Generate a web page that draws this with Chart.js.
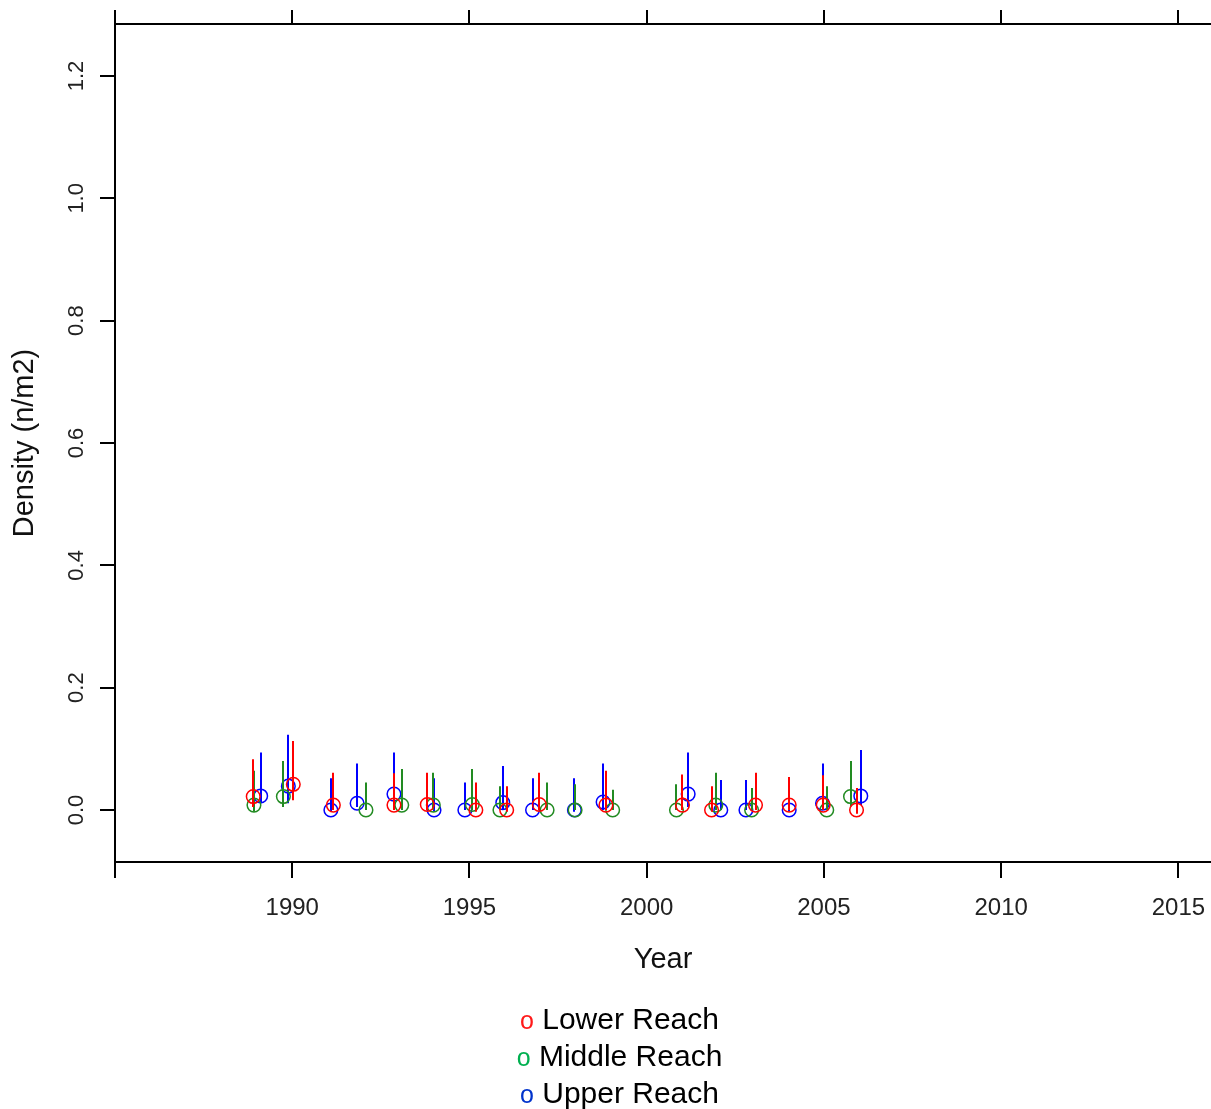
<!DOCTYPE html>
<html>
<head>
<meta charset="utf-8">
<script src="https://cdn.jsdelivr.net/npm/chart.js@4.4.1/dist/chart.umd.min.js"></script>
<style>
  body { margin: 0; background: #fff; }
  #wrap { position: relative; width: 1211px; height: 1109px; overflow: hidden; }
  #legend { position: absolute; left: 14px; top: 1001px; width: 1211px; text-align: center;
            font-family: "Liberation Sans", Arial, sans-serif; font-size: 30px; line-height: 36px; color: #000; }
  #legend span { font-size: 25px; }
</style>
</head>
<body>
<div id="wrap">
  <canvas id="chart" width="1211" height="1109"></canvas>
  <div id="legend"></div>
</div>
<script>
// sampled years (x is jittered per reach in the original plot)
const years = [1989, 1990, 1991, 1992, 1993, 1994, 1995, 1996, 1997, 1998, 1999, 2001, 2002, 2003, 2004, 2005, 2006];

const lowerX  = [1988.90, 1990.03, 1991.16, null, 1992.87, 1993.81, 1995.18, 1996.05, 1996.97, null, 1998.85, 2001.01, 2001.83, 2003.07, 2004.02, 2004.98, 2005.92];
const lowerY  = [0.022, 0.042, 0.008, null, 0.008, 0.009, 0.000, 0.000, 0.009, null, 0.008, 0.008, 0.000, 0.008, 0.008, 0.008, 0.000];
const lowerLo = [0.005, 0.016, 0.000, null, 0.000, 0.000, -0.003, -0.003, 0.000, null, 0.000, 0.000, -0.003, 0.000, 0.000, 0.000, -0.006];
const lowerHi = [0.083, 0.113, 0.061, null, 0.060, 0.061, 0.045, 0.039, 0.061, null, 0.064, 0.058, 0.039, 0.061, 0.054, 0.057, 0.036];

const middleX  = [1988.92, 1989.75, null, 1992.08, 1993.09, 1993.98, 1995.08, 1995.86, 1997.19, 1997.98, 1999.04, 2000.84, 2001.95, 2002.96, null, 2005.08, 2005.75];
const middleY  = [0.008, 0.022, null, 0.000, 0.008, 0.008, 0.009, 0.000, 0.000, 0.000, 0.000, 0.000, 0.008, 0.000, null, 0.000, 0.022];
const middleLo = [-0.003, 0.005, null, 0.000, 0.000, 0.000, 0.000, 0.000, 0.000, 0.000, 0.000, 0.000, 0.000, 0.000, null, 0.000, 0.006];
const middleHi = [0.064, 0.080, null, 0.045, 0.067, 0.061, 0.067, 0.039, 0.045, 0.042, 0.033, 0.042, 0.061, 0.036, null, 0.039, 0.080];

const upperX  = [1989.11, 1989.89, 1991.09, 1991.83, 1992.87, 1994.00, 1994.87, 1995.94, 1996.78, 1997.96, 1998.77, 2001.17, 2002.09, 2002.80, 2004.02, 2004.96, 2006.04];
const upperY  = [0.023, 0.039, 0.000, 0.011, 0.026, 0.000, 0.000, 0.012, 0.000, 0.000, 0.013, 0.026, 0.000, 0.000, 0.000, 0.011, 0.023];
const upperLo = [0.011, 0.011, -0.003, 0.005, 0.008, -0.003, 0.000, 0.000, 0.000, -0.003, 0.000, 0.005, 0.000, 0.000, -0.003, 0.000, 0.008];
const upperHi = [0.094, 0.123, 0.052, 0.076, 0.094, 0.052, 0.045, 0.072, 0.052, 0.052, 0.076, 0.094, 0.049, 0.049, 0.050, 0.076, 0.098];

const seriesNames = ["Lower Reach", "Middle Reach", "Upper Reach"];
const lineColors = ["#ff0000", "#228b22", "#0000ff"];
const legendColors = ["#ff1a1a", "#00b050", "#0033cc"];
const xTicks = [1985, 1990, 1995, 2000, 2005, 2010, 2015];
const yTicks = [0.0, 0.2, 0.4, 0.6, 0.8, 1.0, 1.2];

const FONT = '"Liberation Sans", Arial, sans-serif';

function makePoints(xs, ys, lo, hi) {
  return years.map((yr, i) => ({ x: xs[i], y: ys[i], lo: lo[i], hi: hi[i] }))
    .filter(p => p.x !== null && p.y !== null);
}

const allX = [lowerX, middleX, upperX];
const allY = [lowerY, middleY, upperY];
const allLo = [lowerLo, middleLo, upperLo];
const allHi = [lowerHi, middleHi, upperHi];

const datasets = seriesNames.map((name, k) => ({
  label: name,
  data: makePoints(allX[k], allY[k], allLo[k], allHi[k]),
  borderColor: lineColors[k],
  backgroundColor: "rgba(0,0,0,0)",
  pointStyle: "circle",
  pointRadius: 6.8,
  pointBorderWidth: 1.5,
  showLine: false
}));

// vertical range segments, drawn right after each reach's points
const rangeBars = {
  id: "rangeBars",
  afterDatasetDraw(chart, args) {
    const ds = chart.data.datasets[args.index];
    const xs = chart.scales.x, ys = chart.scales.y;
    const c = chart.ctx;
    c.save();
    c.strokeStyle = ds.borderColor;
    c.lineWidth = 2;
    ds.data.forEach(p => {
      const px = Math.round(xs.getPixelForValue(p.x));
      c.beginPath();
      c.moveTo(px, ys.getPixelForValue(p.lo));
      c.lineTo(px, ys.getPixelForValue(p.hi));
      c.stroke();
    });
    c.restore();
  }
};

// rotated y tick labels, like R's default las=0
const yLabels = {
  id: "yLabels",
  afterDraw(chart) {
    const c = chart.ctx, ys = chart.scales.y;
    c.save();
    c.fillStyle = "#222";
    c.font = "22px " + FONT;
    c.textAlign = "center";
    c.textBaseline = "middle";
    yTicks.forEach(v => {
      c.save();
      c.translate(77, ys.getPixelForValue(v));
      c.rotate(-Math.PI / 2);
      c.fillText(v.toFixed(1), 0, 0);
      c.restore();
    });
    c.restore();
  }
};

const axisGrid = { drawOnChartArea: false, color: "#000", lineWidth: 2 };
const axisBorder = { display: true, color: "#000", width: 2 };
const noPad = s => { s.paddingLeft = 0; s.paddingRight = 0; s.paddingTop = 0; s.paddingBottom = 0; };

new Chart(document.getElementById("chart"), {
  type: "scatter",
  data: { datasets },
  options: {
    responsive: false,
    animation: false,
    devicePixelRatio: 1,
    layout: { autoPadding: false, padding: { left: 0, right: 0, top: 0, bottom: 130 } },
    plugins: { legend: { display: false }, tooltip: { enabled: false } },
    scales: {
      x: {
        type: "linear", position: "bottom", min: 1985, max: 2015.92,
        afterBuildTicks: s => { s.ticks = xTicks.map(v => ({ value: v })); },
        ticks: {
          padding: 16, color: "#222", font: { family: FONT, size: 24 },
          maxRotation: 0, autoSkip: false,
          callback: v => (v === 1985 ? "" : String(v))
        },
        grid: Object.assign({ tickLength: 16 }, axisGrid),
        border: axisBorder,
        title: { display: true, text: "Year", color: "#111", font: { family: FONT, size: 29 }, padding: { top: 0, bottom: 2 } },
        afterFit: s => { s.height = 117; noPad(s); }
      },
      xTop: {
        type: "linear", position: "top", min: 1985, max: 2015.92,
        afterBuildTicks: s => { s.ticks = xTicks.map(v => ({ value: v })); },
        ticks: { display: false },
        grid: Object.assign({ tickLength: 14 }, axisGrid),
        border: axisBorder,
        afterFit: s => { s.height = 24; noPad(s); }
      },
      y: {
        type: "linear", position: "left", min: -0.085, max: 1.285,
        afterBuildTicks: s => { s.ticks = yTicks.map(v => ({ value: v })); },
        ticks: { display: false },
        grid: Object.assign({ tickLength: 15 }, axisGrid),
        border: axisBorder,
        title: { display: true, text: "Density (n/m2)", color: "#111", font: { family: FONT, size: 29 }, padding: { top: 8, bottom: 0 } },
        afterFit: s => { s.width = 115; noPad(s); }
      }
    }
  },
  plugins: [rangeBars, yLabels]
});

document.getElementById("legend").innerHTML = seriesNames
  .map((name, k) => `<div><span style="color:${legendColors[k]}">o</span> ${name}</div>`)
  .join("");
</script>
</body>
</html>
